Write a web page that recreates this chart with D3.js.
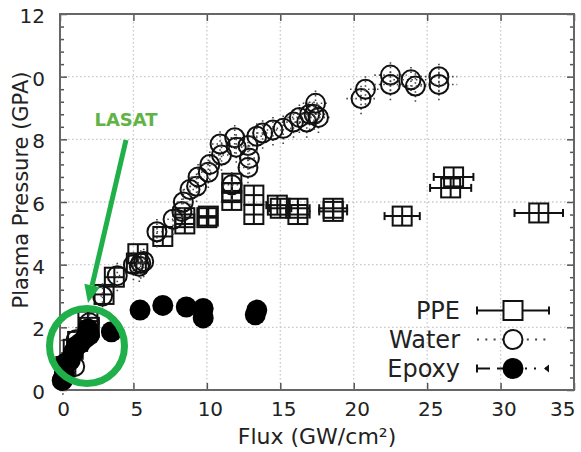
<!DOCTYPE html>
<html><head><meta charset="utf-8">
<script src="https://cdn.jsdelivr.net/npm/d3@7"></script>
<style>
html,body{margin:0;padding:0;background:#fff;}
svg text{font-family:"DejaVu Sans",sans-serif;fill:#222;}
</style>
</head><body>
<svg id="chart" width="581" height="452"></svg>
<script>
// ---- data ----
const xTicks = [0,5,10,15,20,25,30,35];
const xTickLabels = ["0","5","10","15","20","25","30","35"];
const yTicks = [0,2,4,6,8,10,12];
const yTickLabels = ["0","2","4","6","8","0","12"];

const ppeFlux     = [0.4,0.9,1.2,1.9,2.0,3.0,3.7,5.3,5.2,7.0,8.5,8.5,10.1,10.0,11.7,11.7,11.7,13.2,13.2,14.8,15.0,16.2,16.2,18.6,18.6,23.3,26.8,26.6,32.6];
const ppePressure = [0.75,1.3,1.55,2.2,2.0,3.05,3.6,4.35,4.05,4.9,5.5,5.3,5.55,5.5,6.6,6.3,6.05,6.22,5.6,5.9,5.8,5.8,5.6,5.8,5.7,5.55,6.8,6.45,5.65];
const ppeFluxErr  = [0.1,0.1,0.1,0.15,0.15,0.2,0.25,0.3,0.3,0.35,0.45,0.45,0.5,0.5,0.6,0.6,0.6,0.65,0.65,0.75,0.75,0.8,0.8,0.95,0.95,1.2,1.35,1.4,1.65];
const ppePressErr = [0.15,0.2,0.2,0.25,0.25,0.25,0.25,0.25,0.25,0.25,0.25,0.25,0.25,0.25,0.3,0.3,0.3,0.3,0.3,0.3,0.3,0.3,0.3,0.3,0.3,0.3,0.3,0.3,0.3];

const waterFlux     = [0.2,1.0,1.1,2.0,2.9,3.9,5.0,5.4,5.7,5.5,6.6,7.7,8.3,8.4,8.85,9.3,9.4,10.1,10.2,11.0,10.9,11.7,11.9,12.0,12.8,12.9,12.8,13.4,13.8,14.5,15.2,15.9,16.3,16.8,17.0,17.3,17.6,17.4,20.5,20.8,22.5,22.5,23.9,24.2,25.8,25.8];
const waterPressure = [0.35,0.75,1.6,2.15,3.0,3.65,4.0,3.95,4.1,4.05,5.05,5.45,5.7,6.0,6.4,6.5,6.8,6.95,7.2,7.5,7.85,6.55,8.05,7.75,7.8,7.4,7.1,8.1,8.2,8.3,8.35,8.55,8.7,8.55,8.8,8.8,8.7,9.15,9.3,9.6,10.05,9.75,9.9,9.7,10.0,9.75];
const waterFluxErr  = [0.02,0.05,0.06,0.1,0.15,0.2,0.25,0.27,0.29,0.28,0.33,0.39,0.42,0.42,0.44,0.47,0.47,0.5,0.51,0.55,0.55,0.59,0.6,0.6,0.64,0.65,0.64,0.67,0.69,0.73,0.76,0.8,0.82,0.84,0.85,0.87,0.88,0.87,1.0,1.05,1.1,1.1,1.2,1.2,1.25,1.25];
const waterPressErr = 0.5;

const epoxyFlux     = [0.15,0.3,0.35,0.7,0.9,1.1,1.4,1.7,2.0,1.9,3.5,5.45,7.0,8.6,9.75,9.75,13.4,13.3];
const epoxyPressure = [0.3,0.55,0.85,0.95,1.2,1.4,1.5,1.65,1.75,1.95,1.86,2.55,2.7,2.65,2.6,2.3,2.55,2.4];

const seriesNames = ["PPE","Water","Epoxy"];
const annotation = "LASAT";

// ---- layout ----
const svg = d3.select("#chart");
const L=60, R=574, T=14, B=390;
const x = d3.scaleLinear().domain([0,35]).range([L,R]);
const y = d3.scaleLinear().domain([0,12]).range([B,T]);

// grid
const grid = svg.append("g").attr("stroke","#c8c8c8").attr("stroke-width",1.3).attr("stroke-dasharray","1.5,2.5");
grid.selectAll("line.gx").data(xTicks.slice(1,-1)).join("line")
  .attr("x1",d=>x(d)).attr("x2",d=>x(d)).attr("y1",T).attr("y2",B);
grid.selectAll("line.gy").data(yTicks.slice(1,-1)).join("line")
  .attr("y1",d=>y(d)).attr("y2",d=>y(d)).attr("x1",L).attr("x2",R);

// axes
const fs = 20;
const ax = svg.append("g").attr("transform",`translate(0,${B})`)
  .call(d3.axisBottom(x).tickValues(xTicks).tickSize(-7).tickPadding(12).tickFormat((d,i)=>xTickLabels[i]));
const axTop = svg.append("g").attr("transform",`translate(0,${T})`)
  .call(d3.axisTop(x).tickValues(xTicks).tickSize(-7).tickFormat(""));
const ay = svg.append("g").attr("transform",`translate(${L},0)`)
  .call(d3.axisLeft(y).tickValues(yTicks).tickSize(-7).tickPadding(15).tickFormat((d,i)=>yTickLabels[i]));
const ayR = svg.append("g").attr("transform",`translate(${R},0)`)
  .call(d3.axisRight(y).tickValues(yTicks).tickSize(-7).tickFormat(""));
const minor = d3.range(0,12.01,0.4).filter(v=>Math.abs(v/2-Math.round(v/2))>0.01);
svg.append("g").attr("transform",`translate(${L},0)`)
  .call(d3.axisLeft(y).tickValues(minor).tickSize(-4).tickFormat(""));
svg.append("g").attr("transform",`translate(${R},0)`)
  .call(d3.axisRight(y).tickValues(minor).tickSize(-4).tickFormat(""));
svg.selectAll(".domain").remove();
svg.selectAll(".tick line").attr("stroke","#555").attr("stroke-width",1.5);
svg.selectAll(".tick text").attr("font-size",fs).attr("font-family","DejaVu Sans").attr("fill","#222");
ay.selectAll(".tick text").attr("dy","0.42em");
ax.selectAll(".tick text").attr("dx",3);
ax.selectAll(".tick text").filter(d=>d===35).attr("text-anchor","end").attr("dx",1);

svg.append("rect").attr("x",L).attr("y",T).attr("width",R-L).attr("height",B-T)
  .attr("fill","none").attr("stroke","#666").attr("stroke-width",2);

// axis titles
svg.append("text").attr("x",(L+R)/2).attr("y",444).attr("text-anchor","middle")
  .attr("font-size",22).text("Flux (GW/cm²)");
svg.append("text").attr("transform",`translate(28,190) rotate(-90)`).attr("text-anchor","middle")
  .attr("font-size",21).text("Plasma Pressure (GPA)");

// ---- PPE ----
const ppe = ppeFlux.map((f,i)=>({x:f,y:ppePressure[i],xe:ppeFluxErr[i],ye:ppePressErr[i]}));
const gP = svg.append("g").attr("stroke","#111").attr("stroke-width",2).attr("fill","none");
const half = 9.5;
ppe.forEach(d=>{
  const cx=x(d.x), cy=y(d.y);
  const x0=Math.min(x(d.x-d.xe),cx-half), x1=Math.max(x(d.x+d.xe),cx+half);
  const y0=Math.max(y(d.y-d.ye),cy+half), y1=Math.min(y(d.y+d.ye),cy-half);
  gP.append("line").attr("x1",x0).attr("x2",x1).attr("y1",cy).attr("y2",cy);
  gP.append("line").attr("x1",cx).attr("x2",cx).attr("y1",y0).attr("y2",y1);
  if (x(d.x+d.xe)-cx>half+1){
    gP.append("line").attr("x1",x0).attr("x2",x0).attr("y1",cy-4).attr("y2",cy+4);
    gP.append("line").attr("x1",x1).attr("x2",x1).attr("y1",cy-4).attr("y2",cy+4);
  }
  gP.append("rect").attr("x",cx-half).attr("y",cy-half).attr("width",2*half).attr("height",2*half);
});

// ---- Water ----
const water = waterFlux.map((f,i)=>({x:f,y:waterPressure[i],xe:waterFluxErr[i],ye:waterPressErr}));
const gW = svg.append("g").attr("fill","none");
water.forEach(d=>{
  const cx=x(d.x), cy=y(d.y);
  gW.append("line").attr("x1",x(d.x-d.xe)).attr("x2",x(d.x+d.xe)).attr("y1",cy).attr("y2",cy)
    .attr("stroke","#444").attr("stroke-width",1.6).attr("stroke-dasharray","1.5,3");
  gW.append("line").attr("x1",cx).attr("x2",cx).attr("y1",y(d.y-d.ye)).attr("y2",y(d.y+d.ye))
    .attr("stroke","#444").attr("stroke-width",1.6).attr("stroke-dasharray","1.5,3");
  gW.append("circle").attr("cx",cx).attr("cy",cy).attr("r",9.5).attr("stroke","#111").attr("stroke-width",2);
});

// ---- Epoxy ----
svg.append("g").selectAll("circle").data(epoxyFlux.map((f,i)=>({x:f,y:epoxyPressure[i]})))
  .join("circle").attr("cx",d=>x(d.x)).attr("cy",d=>y(d.y)).attr("r",10.5).attr("fill","#000");

// ---- Legend ----
const lg = svg.append("g");
const rowsY = [310.5,339.5,368.5];
const lx0=477, lx1=549, lxm=513;
seriesNames.forEach((n,i)=>{
  lg.append("text").attr("x",460).attr("y",rowsY[i]+8.5).attr("text-anchor","end").attr("font-size",24).text(n);
});
// PPE
lg.append("line").attr("x1",lx0).attr("x2",lx1).attr("y1",rowsY[0]).attr("y2",rowsY[0]).attr("stroke","#111").attr("stroke-width",2);
[lx0,lx1].forEach(v=>lg.append("line").attr("x1",v).attr("x2",v).attr("y1",rowsY[0]-4).attr("y2",rowsY[0]+4).attr("stroke","#111").attr("stroke-width",2));
lg.append("rect").attr("x",lxm-half).attr("y",rowsY[0]-half).attr("width",2*half).attr("height",2*half).attr("fill","#fff").attr("stroke","#111").attr("stroke-width",2);
// Water
lg.append("line").attr("x1",lx0).attr("x2",lx1).attr("y1",rowsY[1]).attr("y2",rowsY[1]).attr("stroke","#444").attr("stroke-width",2).attr("stroke-dasharray","2,6.3");
lg.append("circle").attr("cx",lxm).attr("cy",rowsY[1]).attr("r",9.5).attr("fill","#fff").attr("stroke","#111").attr("stroke-width",2);
// Epoxy
lg.append("line").attr("x1",lx0).attr("x2",lx1).attr("y1",rowsY[2]).attr("y2",rowsY[2]).attr("stroke","#111").attr("stroke-width",2.2).attr("stroke-dasharray","13,7,7,21,2,7,2,9,4");
lg.append("line").attr("x1",lx0).attr("x2",lx0).attr("y1",rowsY[2]-4).attr("y2",rowsY[2]+4).attr("stroke","#111").attr("stroke-width",2);
lg.append("path").attr("d",`M${lx1},${rowsY[2]-4}L${lx1-5},${rowsY[2]}L${lx1},${rowsY[2]+4}Z`).attr("fill","#111");
lg.append("circle").attr("cx",lxm).attr("cy",rowsY[2]).attr("r",10.5).attr("fill","#000");

// ---- LASAT annotation ----
const green = "#1fb04a";
svg.append("circle").attr("cx",87).attr("cy",346).attr("r",37.5).attr("fill","none").attr("stroke",green).attr("stroke-width",7);
const ax0=126, ay0=140, ax1=88, ay1=303;
const ang = Math.atan2(ay1-ay0, ax1-ax0);
const hl=18, hw=8;
const bx = ax1 - hl*Math.cos(ang), by = ay1 - hl*Math.sin(ang);
svg.append("line").attr("x1",ax0).attr("y1",ay0).attr("x2",bx).attr("y2",by).attr("stroke",green).attr("stroke-width",5);
svg.append("path").attr("fill",green).attr("d",
  `M${ax1},${ay1}L${bx+hw*Math.sin(ang)},${by-hw*Math.cos(ang)}L${bx-hw*Math.sin(ang)},${by+hw*Math.cos(ang)}Z`);
svg.append("text").attr("x",126).attr("y",126).attr("text-anchor","middle")
  .attr("font-family","'Open Sans',sans-serif").attr("font-weight","bold").attr("font-size",18)
  .style("fill","#62b346").text(annotation);
</script>
</body></html>
